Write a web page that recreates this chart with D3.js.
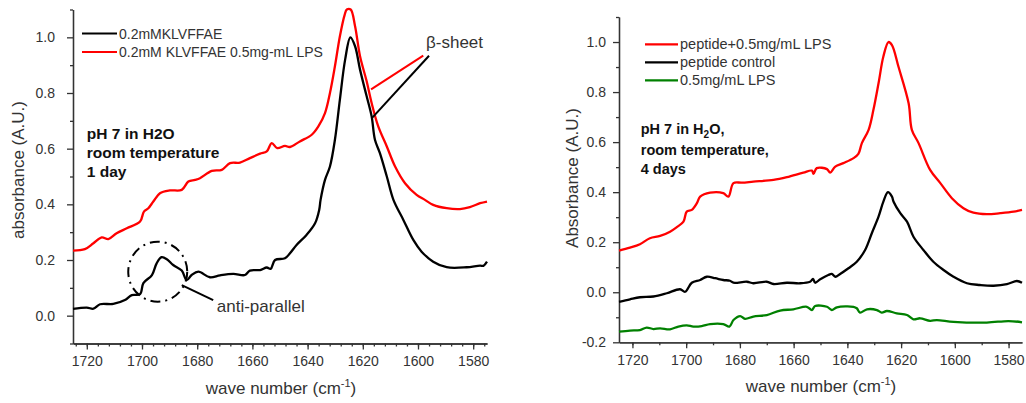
<!DOCTYPE html>
<html>
<head>
<meta charset="utf-8">
<script src="https://cdn.jsdelivr.net/npm/d3@7"></script>
<style>
  body { margin: 0; background: #fff; }
  text { font-family: Arial, "Liberation Sans", sans-serif; }
</style>
</head>
<body>
<div id="chart"></div>
<script>
// ---- data: [wave number (cm-1), absorbance] ----
// left panel, 1 day
const leftPeptide = [
  [1725,0.024],[1720,0.029],[1717.6,0.025],[1715.2,0.041],[1710.4,0.042],[1706.2,0.056],[1703.7,0.074],
  [1700.7,0.077],[1699.5,0.117],[1696.4,0.146],[1694.7,0.188],[1692.9,0.21],[1691,0.203],[1688.7,0.182],
  [1685.6,0.162],[1683.8,0.128],[1682,0.146],[1679.6,0.158],[1675.4,0.138],[1671.7,0.145],[1666.9,0.15],
  [1662.7,0.146],[1660.9,0.162],[1657.2,0.164],[1654.8,0.173],[1653.4,0.168],[1651.8,0.2],[1648.2,0.206],
  [1646.4,0.224],[1644,0.254],[1640.4,0.29],[1637.3,0.332],[1635.8,0.38],[1635.3,0.416],[1633.7,0.488],
  [1631.9,0.536],[1630.1,0.632],[1628.3,0.776],[1626.4,0.92],[1624.5,1.0],[1622.8,0.968],[1621,0.884],
  [1618.6,0.788],[1616.8,0.716],[1615.6,0.632],[1613.8,0.584],[1611.3,0.5],[1608.9,0.416],[1605.3,0.344],
  [1601.7,0.272],[1598.7,0.23],[1594.5,0.194],[1589.6,0.174],[1582.4,0.174],[1577.5,0.18],[1576.3,0.179],
  [1575,0.194]
];
const leftPeptideLPS = [
  [1725,0.234],[1720.7,0.239],[1717.6,0.26],[1714.6,0.281],[1712.2,0.275],[1709.2,0.296],[1705.5,0.314],
  [1700.7,0.338],[1699.3,0.374],[1697.7,0.386],[1695.9,0.41],[1693.5,0.44],[1689.9,0.45],[1685.6,0.452],
  [1683.2,0.482],[1680.8,0.488],[1679,0.494],[1674.7,0.52],[1671.1,0.524],[1668.1,0.548],[1664.5,0.55],
  [1660.9,0.566],[1657.2,0.582],[1654.8,0.59],[1653,0.62],[1651,0.602],[1648.2,0.61],[1646.4,0.606],
  [1642.8,0.626],[1638.5,0.65],[1636.1,0.68],[1633.7,0.728],[1631.9,0.8],[1630.1,0.896],[1628.3,1.004],
  [1626.6,1.08],[1625.8,1.1],[1624.4,1.1],[1622.8,1.04],[1621,0.932],[1618.6,0.842],[1616.8,0.764],
  [1614.4,0.68],[1611.3,0.608],[1608.3,0.536],[1604.7,0.476],[1600.5,0.434],[1597.5,0.416],[1594.5,0.398],
  [1589.6,0.386],[1584.8,0.383],[1581.2,0.39],[1577.5,0.404],[1575,0.41]
];
// right panel, 4 days
const rightPeptideLPS = [
  [1725,0.166],[1720.9,0.178],[1717.2,0.192],[1713.5,0.216],[1709.7,0.225],[1706,0.242],[1703.5,0.26],
  [1701,0.282],[1699.8,0.322],[1697.9,0.329],[1696,0.356],[1694.8,0.382],[1691.1,0.398],[1686.2,0.396],
  [1684.3,0.382],[1682.4,0.436],[1679.3,0.438],[1675,0.442],[1667.5,0.449],[1662.5,0.46],[1656.4,0.478],
  [1653.2,0.486],[1652.6,0.473],[1651.4,0.496],[1647.6,0.492],[1646.4,0.478],[1644.5,0.502],[1641.5,0.516],
  [1637.7,0.536],[1635.9,0.553],[1634.6,0.596],[1632.1,0.649],[1630.3,0.729],[1628.4,0.835],[1626.6,0.942],
  [1624.7,1.0],[1623.4,0.988],[1621,0.902],[1617.2,0.755],[1616,0.649],[1613.5,0.596],[1609.2,0.489],
  [1605.4,0.436],[1601.1,0.376],[1596.8,0.336],[1593.1,0.318],[1588.1,0.312],[1583.1,0.316],[1578.1,0.322],
  [1575,0.329]
];
const rightPeptide = [
  [1725,-0.038],[1720.9,-0.028],[1717.2,-0.02],[1712.2,-0.017],[1707.2,-0.004],[1702.3,0.012],[1700.4,0.002],
  [1697.9,0.038],[1694.8,0.049],[1692.3,0.062],[1689.2,0.056],[1686.2,0.049],[1683.7,0.046],[1682.4,0.038],
  [1677.4,0.042],[1675,0.036],[1670,0.042],[1667.5,0.033],[1662.5,0.038],[1657.6,0.036],[1653.9,0.042],
  [1652.8,0.053],[1652,0.038],[1650.1,0.052],[1647.1,0.069],[1645.8,0.073],[1644.5,0.062],[1642.7,0.073],
  [1639.6,0.096],[1636.5,0.122],[1633.4,0.169],[1630.9,0.236],[1628.4,0.302],[1626.6,0.362],[1624.9,0.4],
  [1623.4,0.382],[1622.8,0.362],[1620.3,0.316],[1617.8,0.282],[1615.4,0.222],[1611.7,0.169],[1608,0.122],
  [1604.2,0.089],[1600.5,0.062],[1595.5,0.036],[1590.6,0.029],[1585.6,0.026],[1580.6,0.032],[1576.9,0.045],
  [1575,0.038]
];
const rightLPS = [
  [1725,-0.157],[1720.9,-0.153],[1717.2,-0.151],[1714.7,-0.141],[1712.2,-0.147],[1709.7,-0.144],[1706,-0.148],
  [1702.9,-0.137],[1699.8,-0.132],[1697.3,-0.137],[1694.2,-0.135],[1691.1,-0.127],[1686.2,-0.127],[1683.9,-0.137],
  [1682.4,-0.111],[1679.9,-0.095],[1678.1,-0.106],[1675,-0.097],[1670,-0.091],[1665,-0.073],[1660.1,-0.068],
  [1655.1,-0.058],[1653.2,-0.071],[1652,-0.055],[1647.6,-0.058],[1645.8,-0.071],[1643.9,-0.06],[1637.7,-0.058],
  [1636.5,-0.064],[1635.3,-0.081],[1632.7,-0.068],[1629,-0.071],[1627.2,-0.081],[1625.3,-0.075],[1621.6,-0.084],
  [1617.8,-0.091],[1615.4,-0.108],[1612.9,-0.104],[1609.2,-0.114],[1606.7,-0.111],[1600.5,-0.118],[1588.1,-0.121],
  [1580,-0.115],[1575,-0.12]
];

// ---- ticks ----
const xMajorTicks = [1720, 1700, 1680, 1660, 1640, 1620, 1600, 1580];
const leftXMinorTicks = d3.range(1724, 1575, -4);
const rightXMinorTicks = d3.range(1720, 1575, -10);
const leftYMajorTicks = [0.0, 0.2, 0.4, 0.6, 0.8, 1.0];
const leftYMinorTicks = [-0.1, 0.1, 0.3, 0.5, 0.7, 0.9, 1.1];
const rightYMajorTicks = [-0.2, 0.0, 0.2, 0.4, 0.6, 0.8, 1.0];
const rightYMinorTicks = [-0.1, 0.1, 0.3, 0.5, 0.7, 0.9, 1.1];

const svg = d3.select("#chart").append("svg")
  .attr("width", 1026)
  .attr("height", 403);

const axisColor = "#333";

function drawPanel(p) {
  const x = d3.scaleLinear().domain([1725, 1575]).range(p.xRange);
  const y = d3.scaleLinear().domain(p.yDomain).range(p.yRange);
  const g = svg.append("g");

  // x axis: minor then major
  g.append("g")
    .attr("transform", `translate(0,${p.yRange[0]})`)
    .call(d3.axisBottom(x).tickValues(p.xMinor).tickSize(3).tickSizeOuter(0).tickFormat(""));
  g.append("g")
    .attr("transform", `translate(0,${p.yRange[0]})`)
    .call(d3.axisBottom(x).tickValues(xMajorTicks).tickSize(6).tickSizeOuter(0).tickPadding(7)
      .tickFormat(d3.format("d")))
    .call(a => a.selectAll("text").style("font-size", p.tickFont + "px"));

  // y axis
  g.append("g")
    .attr("transform", `translate(${p.xRange[0]},0)`)
    .call(d3.axisLeft(y).tickValues(p.yMinor).tickSize(3).tickSizeOuter(0).tickFormat(""));
  g.append("g")
    .attr("transform", `translate(${p.xRange[0]},0)`)
    .call(d3.axisLeft(y).tickValues(p.yMajor).tickSize(6).tickSizeOuter(0)
      .tickPadding(p.yPad).tickFormat(d => d.toFixed(1)))
    .call(a => a.selectAll("text").style("font-size", p.tickFont + "px"));

  g.selectAll(".domain, .tick line").attr("stroke", axisColor).attr("stroke-width", 1.3);
  g.selectAll(".tick text").attr("fill", axisColor);

  // axis titles
  const xt = g.append("text")
    .attr("x", p.xTitle[0]).attr("y", p.xTitle[1])
    .attr("text-anchor", "middle")
    .style("font-size", "17px").attr("fill", axisColor);
  xt.append("tspan").text("wave number (cm");
  xt.append("tspan").attr("dy", -7).style("font-size", "11px").text("-1");
  xt.append("tspan").attr("dy", 7).text(")");

  g.append("text")
    .attr("transform", `translate(${p.yTitle[0]},${p.yTitle[1]}) rotate(-90)`)
    .attr("text-anchor", "middle")
    .attr("dy", "0.35em")
    .style("font-size", "17px").attr("fill", axisColor)
    .text(p.yLabel);

  // spectra
  const line = d3.line()
    .x(d => x(d[0]))
    .y(d => y(d[1]))
    .curve(d3.curveCatmullRom.alpha(0.5));
  g.selectAll(".spectrum")
    .data(p.series)
    .join("path")
    .attr("class", "spectrum")
    .attr("d", d => line(d.values))
    .attr("fill", "none")
    .attr("stroke", d => d.color)
    .attr("stroke-width", 2.3)
    .attr("stroke-linejoin", "round");

  // legend
  const legend = g.selectAll(".legend")
    .data(p.series.filter(d => d.label))
    .join("g")
    .attr("class", "legend")
    .attr("transform", (d, i) => `translate(${p.legend[0]},${p.legend[1] + i * p.legend[2]})`);
  legend.append("line")
    .attr("x1", 0).attr("x2", p.legend[3])
    .attr("stroke", d => d.color).attr("stroke-width", 2.2);
  legend.append("text")
    .attr("x", p.legend[3] + 2).attr("y", 5)
    .style("font-size", p.legendFont + "px").attr("fill", axisColor)
    .text(d => d.label);

  return { g, x, y };
}

// ---- left panel ----
const left = drawPanel({
  xRange: [73, 487], yDomain: [-0.1, 1.1], yRange: [343.5, 9.5],
  xMinor: leftXMinorTicks, yMajor: leftYMajorTicks, yMinor: leftYMinorTicks,
  tickFont: 14, yPad: 12,
  xTitle: [281, 394], yTitle: [18.5, 170], yLabel: "absorbance (A.U.)",
  legend: [82, 33.5, 18.5, 35], legendFont: 14,
  series: [
    { label: "0.2mMKLVFFAE", color: "#000", values: leftPeptide },
    { label: "0.2mM KLVFFAE 0.5mg-mL LPS", color: "#ff0000", values: leftPeptideLPS }
  ]
});

// annotations (in data units)
const lx = left.x, ly = left.y;
left.g.append("line")
  .attr("x1", lx(1617.0)).attr("y1", ly(0.813)).attr("x2", lx(1598.1)).attr("y2", ly(0.934))
  .attr("stroke", "#ff0000").attr("stroke-width", 2);
left.g.append("line")
  .attr("x1", lx(1616.8)).attr("y1", ly(0.709)).attr("x2", lx(1596.0)).attr("y2", ly(0.934))
  .attr("stroke", "#000").attr("stroke-width", 2);
left.g.append("text")
  .attr("x", lx(1597.1)).attr("y", ly(0.962))
  .style("font-size", "17px").attr("fill", axisColor)
  .text("β-sheet");

left.g.append("ellipse")
  .attr("cx", lx(1694.3)).attr("cy", ly(0.158)).attr("rx", 29.5).attr("ry", 30)
  .attr("fill", "none").attr("stroke", "#000").attr("stroke-width", 2)
  .attr("stroke-dasharray", "10,5,2,5");
left.g.append("line")
  .attr("x1", lx(1685.6)).attr("y1", ly(0.110)).attr("x2", lx(1674.2)).attr("y2", ly(0.056))
  .attr("stroke", "#000").attr("stroke-width", 2);
left.g.append("text")
  .attr("x", lx(1672.9)).attr("y", ly(0.013))
  .style("font-size", "17px").attr("fill", axisColor)
  .text("anti-parallel");

const leftNote = left.g.append("text")
  .attr("x", lx(1720)).attr("y", ly(0.635))
  .style("font-size", "15.5px").style("font-weight", "bold").attr("fill", "#111");
["pH 7 in H2O", "room temperature", "1 day"].forEach((t, i) => {
  leftNote.append("tspan").attr("x", lx(1720)).attr("dy", i ? 19 : 0).text(t);
});

// ---- right panel ----
const right = drawPanel({
  xRange: [619, 1022], yDomain: [-0.2, 1.1], yRange: [342.3, 17],
  xMinor: rightXMinorTicks, yMajor: rightYMajorTicks, yMinor: rightYMinorTicks,
  tickFont: 14, yPad: 7,
  xTitle: [821, 392], yTitle: [572, 178], yLabel: "Absorbance (A.U.)",
  legend: [645, 44.3, 18, 33], legendFont: 14.5,
  series: [
    { label: "peptide+0.5mg/mL LPS", color: "#ff0000", values: rightPeptideLPS },
    { label: "peptide control", color: "#000", values: rightPeptide },
    { label: "0.5mg/mL LPS", color: "#008000", values: rightLPS }
  ]
});

const rx = right.x, ry = right.y;
const rightNote = right.g.append("text")
  .attr("x", rx(1716.9)).attr("y", ry(0.633))
  .style("font-size", "14.5px").style("font-weight", "bold").attr("fill", "#111");
const l1 = rightNote.append("tspan").attr("x", rx(1716.9));
l1.append("tspan").text("pH 7 in H");
l1.append("tspan").attr("dy", 4).style("font-size", "10px").text("2");
l1.append("tspan").attr("dy", -4).text("O,");
rightNote.append("tspan").attr("x", rx(1716.9)).attr("dy", 21.5).text("room temperature,");
rightNote.append("tspan").attr("x", rx(1716.9)).attr("dy", 18.5).text("4 days");
</script>
</body>
</html>
